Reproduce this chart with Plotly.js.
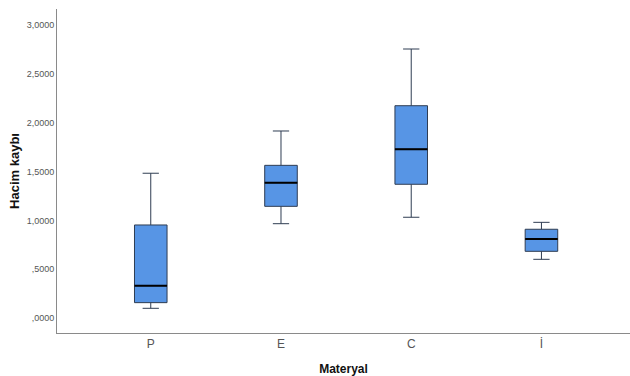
<!DOCTYPE html>
<html>
<head>
<meta charset="utf-8">
<script src="https://cdn.plot.ly/plotly-3.0.1.min.js"></script>
<style>html,body{margin:0;padding:0;background:#fff;}#chart{width:630px;height:376px;}</style>
</head>
<body>
<div id="chart"></div>
<script>
const categories = ["P", "E", "C", "İ"];
const lowerWhisker = [0.099, 0.966, 1.032, 0.601];
const q1 = [0.157, 1.144, 1.370, 0.683];
const medians = [0.331, 1.386, 1.730, 0.809];
const q3 = [0.953, 1.564, 2.175, 0.909];
const upperWhisker = [1.483, 1.916, 2.756, 0.980];
const yTickVals = [0, 0.5, 1, 1.5, 2, 2.5, 3];
const yTickText = [",0000", ",5000", "1,0000", "1,5000", "2,0000", "2,5000", "3,0000"];

const boxWidth = 0.25;

const trace = {
  type: "box",
  x: categories,
  lowerfence: lowerWhisker,
  q1: q1,
  median: medians,
  q3: q3,
  upperfence: upperWhisker,
  width: boxWidth,
  whiskerwidth: 0.5,
  fillcolor: "rgb(87,149,229)",
  line: { color: "#2f3d52", width: 1 },
  boxpoints: false,
  hoverinfo: "skip",
  showlegend: false
};

const medianShapes = medians.map((m, i) => ({
  type: "line", xref: "x", yref: "y",
  x0: i - boxWidth / 2, x1: i + boxWidth / 2, y0: m, y1: m,
  line: { color: "#000", width: 2 }
}));

const layout = {
  width: 630, height: 376,
  margin: { l: 57, r: 0, t: 9, b: 43 },
  paper_bgcolor: "#fff", plot_bgcolor: "#fff",
  font: { family: "Liberation Sans, Arial, sans-serif" },
  xaxis: {
    type: "category",
    range: [-0.72, 3.68],
    showgrid: false, zeroline: false,
    showline: true, linecolor: "#8a8a8a", linewidth: 1,
    ticks: "", tickfont: { size: 12, color: "#555" },
    title: { text: "<b>Materyal</b>", font: { size: 12, color: "#111" }, standoff: 16 }
  },
  yaxis: {
    range: [-0.154, 3.166],
    showgrid: false, zeroline: false,
    showline: true, linecolor: "#8a8a8a", linewidth: 1,
    ticks: "", tickvals: yTickVals, ticktext: yTickText,
    tickfont: { size: 9, color: "#555" },
    title: { text: "<b>Hacim kaybı</b>", font: { size: 13, color: "#111" }, standoff: 4 }
  },
  shapes: medianShapes
};

Plotly.newPlot("chart", [trace], layout, { staticPlot: true, displayModeBar: false });
</script>
</body>
</html>
